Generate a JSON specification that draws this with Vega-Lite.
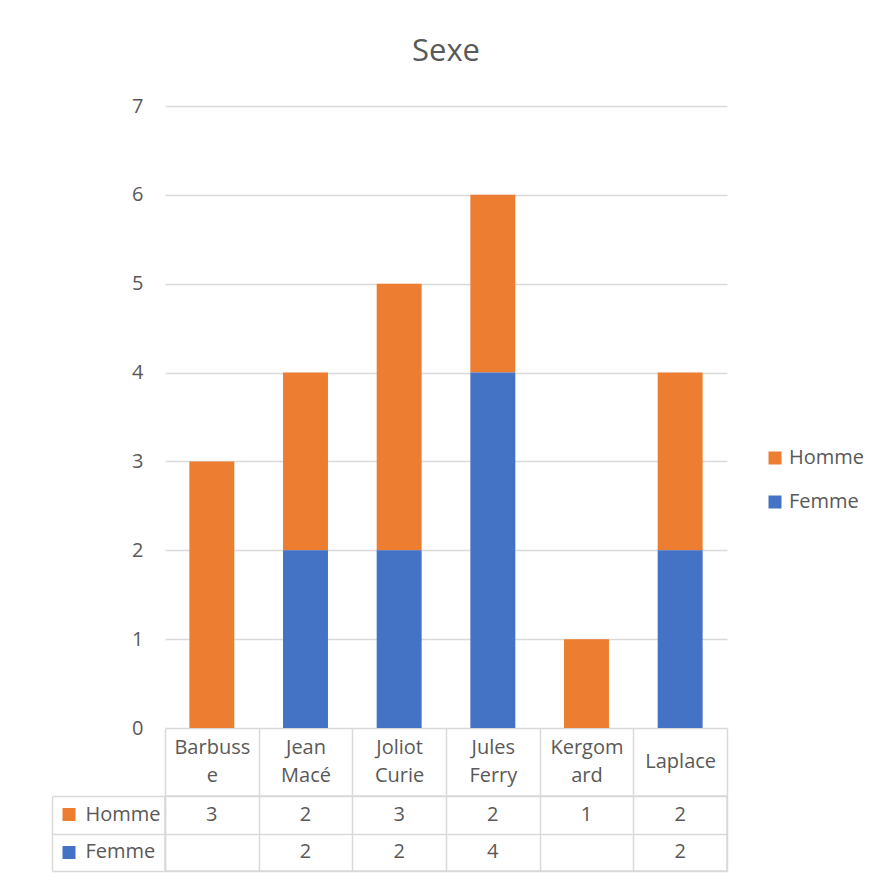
{
  "$schema": "https://vega.github.io/schema/vega-lite/v6.json",
  "padding": {"left": 50, "top": 36, "right": 0, "bottom": 0},
  "background": "white",
  "config": {"font": "Open Sans", "view": {"stroke": null}},
  "datasets": {
    "sexe": [
      {"ecole": "Barbusse", "serie": "Homme", "n": 3},
      {"ecole": "Jean Macé", "serie": "Homme", "n": 2},
      {"ecole": "Jean Macé", "serie": "Femme", "n": 2},
      {"ecole": "Joliot Curie", "serie": "Homme", "n": 3},
      {"ecole": "Joliot Curie", "serie": "Femme", "n": 2},
      {"ecole": "Jules Ferry", "serie": "Homme", "n": 2},
      {"ecole": "Jules Ferry", "serie": "Femme", "n": 4},
      {"ecole": "Kergomard", "serie": "Homme", "n": 1},
      {"ecole": "Laplace", "serie": "Homme", "n": 2},
      {"ecole": "Laplace", "serie": "Femme", "n": 2}
    ]
  },
  "spacing": -2,
  "vconcat": [
    {
      "title": {"text": "Sexe", "fontSize": 31, "color": "#595959", "fontWeight": "normal", "anchor": "middle", "offset": 28},
      "width": 562,
      "height": 622,
      "data": {"name": "sexe"},
      "mark": {"type": "bar", "width": {"band": 0.48}},
      "encoding": {
        "x": {
          "field": "ecole", "type": "nominal",
          "scale": {"paddingInner": 0, "paddingOuter": 0},
          "axis": {
            "title": null, "orient": "bottom", "domain": false,
            "tickBand": "extent", "ticks": true, "tickSize": 67, "tickColor": "#D9D9D9", "tickWidth": 1.5,
            "labelAngle": 0, "labelFontSize": 20, "labelColor": "#595959",
            "labelPadding": {"condition": {"test": "datum.value === 'Laplace'", "value": -34}, "value": -48},
            "labelBaseline": "middle", "labelLineHeight": 28,
            "labelExpr": "datum.value == 'Barbusse' ? ['Barbuss','e'] : datum.value == 'Jean Macé' ? ['Jean','Macé'] : datum.value == 'Joliot Curie' ? ['Joliot','Curie'] : datum.value == 'Jules Ferry' ? ['Jules','Ferry'] : datum.value == 'Kergomard' ? ['Kergom','ard'] : datum.value"
          }
        },
        "y": {
          "field": "n", "type": "quantitative", "stack": "zero",
          "scale": {"domain": [0, 7], "nice": false},
          "axis": {
            "title": null, "values": [0, 1, 2, 3, 4, 5, 6, 7], "domain": false, "ticks": false,
            "grid": true, "gridColor": "#D9D9D9", "gridWidth": 1.5,
            "labelFontSize": 20, "labelColor": "#595959", "labelPadding": 22
          }
        },
        "color": {
          "field": "serie", "type": "nominal",
          "scale": {"domain": ["Homme", "Femme"], "range": ["#ED7D31", "#4472C4"]},
          "legend": {
            "title": null, "orient": "none", "legendX": 600, "legendY": 342,
            "symbolType": "square", "symbolSize": 169, "symbolStrokeWidth": 0, "symbolOpacity": 1,
            "labelFontSize": 20, "labelColor": "#595959", "labelOffset": 4, "rowPadding": 24
          }
        },
        "order": {"field": "serie", "sort": "ascending"}
      }
    },
    {
      "width": 562,
      "height": 75,
      "view": {"stroke": "#D9D9D9", "strokeWidth": 1.5},
      "data": {"name": "sexe"},
      "encoding": {
        "x": {
          "field": "ecole", "type": "nominal",
          "scale": {"paddingInner": 0, "paddingOuter": 0},
          "axis": {"title": null, "orient": "top", "labels": false, "ticks": false, "domain": false,
                   "grid": true, "tickBand": "extent", "gridColor": "#D9D9D9", "gridWidth": 1.5}
        }
      },
      "layer": [
        {
          "mark": {"type": "text", "fontSize": 20, "color": "#595959"},
          "encoding": {
            "y": {
              "field": "serie", "type": "nominal",
              "scale": {"domain": ["Homme", "Femme"], "paddingInner": 0, "paddingOuter": 0},
              "axis": {
                "title": null, "orient": "left", "offset": 113, "domain": true, "domainColor": "#D9D9D9", "domainWidth": 1.5,
                "ticks": false, "grid": false, "labelAlign": "left", "labelPadding": -33,
                "labelFontSize": 20, "labelColor": "#595959", "labelBaseline": "middle"
              }
            },
            "text": {"field": "n", "type": "quantitative"}
          }
        },
        {
          "mark": {"type": "text", "opacity": 0},
          "encoding": {
            "y": {
              "field": "serie", "type": "nominal",
              "axis": {
                "title": null, "orient": "left", "offset": 0, "domain": true, "domainColor": "#D9D9D9", "domainWidth": 1.5,
                "tickBand": "extent", "ticks": true, "tickSize": 113, "tickColor": "#D9D9D9", "tickWidth": 1.5,
                "grid": true, "gridColor": "#D9D9D9", "gridWidth": 1.5, "labels": false
              }
            },
            "text": {"value": ""}
          }
        },
        {
          "mark": {"type": "text", "opacity": 0},
          "encoding": {
            "y": {
              "field": "serie", "type": "nominal",
              "axis": {
                "title": null, "orient": "left", "offset": 90, "domain": false,
                "ticks": true, "tickSize": 13, "tickWidth": 13, "grid": false, "labels": false,
                "tickColor": {"condition": {"test": "datum.value === 'Homme'", "value": "#ED7D31"}, "value": "#4472C4"}
              }
            },
            "text": {"value": ""}
          }
        }
      ],
      "resolve": {"axis": {"y": "independent"}}
    }
  ]
}
